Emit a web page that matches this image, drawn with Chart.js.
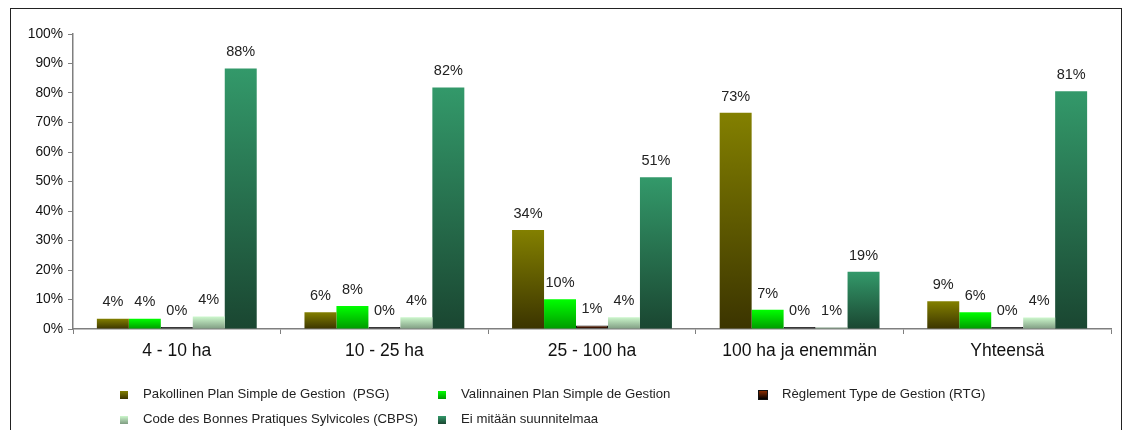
<!DOCTYPE html>
<html>
<head>
<meta charset="utf-8">
<script src="https://cdn.jsdelivr.net/npm/chart.js@4/dist/chart.umd.min.js"></script>
<style>
    html, body { margin: 0; padding: 0; background: #fff; }
    #wrap { position: relative; width: 1124px; height: 430px; overflow: hidden; }
    #frame {
        position: absolute; left: 10px; top: 8px; width: 1112px; height: 440px;
        border: 1.5px solid #222; box-sizing: border-box;
    }
    canvas { position: absolute; left: 0; top: 0; }
    #legend {
        position: absolute; left: 0; top: 0; width: 1124px; height: 430px;
        font-family: "Liberation Sans", Arial, sans-serif; font-size: 13.2px; color: #222;
    }
    .item { position: absolute; white-space: pre; }
    .box { position: absolute; width: 8px; height: 8px; top: 5px; left: -23px; }
</style>
</head>
<body>
<div id="wrap">
    <div id="frame"></div>
    <canvas id="chart" width="1124" height="430"></canvas>
    <div id="legend"></div>
</div>
<script>
const categories = ['4 - 10 ha', '10 - 25 ha', '25 - 100 ha', '100 ha ja enemmän', 'Yhteensä'];
const seriesNames = [
    'Pakollinen Plan Simple de Gestion  (PSG)',
    'Valinnainen Plan Simple de Gestion',
    'Règlement Type de Gestion (RTG)',
    'Code des Bonnes Pratiques Sylvicoles (CBPS)',
    'Ei mitään suunnitelmaa'
];
const psg  = [3.5, 5.7, 33.6, 73.3, 9.4];
const val  = [3.5, 7.8, 10.1, 6.5, 5.7];
const rtg  = [0.3, 0.3, 1.2, 0.4, 0.3];
const cbps = [4.2, 4.0, 4.0, 0.5, 3.9];
const ei   = [88.3, 81.9, 51.4, 19.4, 80.6];
const yTicks = [0, 10, 20, 30, 40, 50, 60, 70, 80, 90, 100];

// top and bottom colours of each series gradient
const gradTop = ['#838000', '#00ff00', '#8b2c00', '#ccf7cc', '#33996a'];
const gradBottom = ['#3b3400', '#009a00', '#000000', '#7f9c82', '#1a4631'];
const borders = ['rgba(0,0,0,0)', 'rgba(0,0,0,0)', '#111', 'rgba(0,0,0,0)', 'rgba(0,0,0,0)'];

const FONT = '"Liberation Sans", Arial, sans-serif';

function barGradient(i) {
    return function(context) {
        const chart = context.chart;
        if (!chart.chartArea || context.parsed === undefined) return gradTop[i];
        const y = chart.scales.y;
        const top = y.getPixelForValue(context.parsed.y);
        const bottom = y.getPixelForValue(0);
        if (!isFinite(top) || bottom - top < 2) return gradBottom[i];
        const g = chart.ctx.createLinearGradient(0, top, 0, bottom);
        g.addColorStop(0, gradTop[i]);
        g.addColorStop(1, gradBottom[i]);
        return g;
    };
}

const seriesData = [psg, val, rtg, cbps, ei];

const valueLabels = {
    id: 'valueLabels',
    afterDatasetsDraw(chart) {
        const ctx = chart.ctx;
        ctx.save();
        ctx.font = '14.5px ' + FONT;
        ctx.fillStyle = '#222';
        ctx.textAlign = 'center';
        ctx.textBaseline = 'bottom';
        chart.data.datasets.forEach((ds, di) => {
            chart.getDatasetMeta(di).data.forEach((bar, i) => {
                ctx.fillText(Math.round(ds.data[i]) + '%', bar.x, bar.y - 9);
            });
        });
        ctx.restore();
    }
};

new Chart(document.getElementById('chart'), {
    type: 'bar',
    data: {
        labels: categories,
        datasets: seriesData.map((d, i) => ({
            label: seriesNames[i],
            data: d,
            backgroundColor: barGradient(i),
            borderColor: borders[i],
            borderWidth: i === 2 ? 1 : 0,
            minBarLength: i === 2 ? 2 : 0,
            categoryPercentage: 0.77,
            barPercentage: 1.0
        }))
    },
    options: {
        responsive: false,
        animation: false,
        layout: { padding: { left: 0, right: 13, top: 34, bottom: 0 } },
        plugins: {
            legend: { display: false },
            tooltip: { enabled: false }
        },
        scales: {
            x: {
                grid: { display: true, drawOnChartArea: false, drawTicks: true, tickLength: 5, color: '#7f7f7f', offset: true },
                border: { color: '#7f7f7f', width: 1.5 },
                ticks: { font: { family: FONT, size: 17.5 }, color: '#111', padding: 7 },
                afterFit(scale) { scale.height = 101; }
            },
            y: {
                min: 0,
                max: 100,
                afterBuildTicks(scale) { scale.ticks = yTicks.map(v => ({ value: v })); },
                grid: { display: true, drawOnChartArea: false, drawTicks: true, tickLength: 5, color: '#7f7f7f' },
                border: { color: '#7f7f7f', width: 1.5 },
                ticks: {
                    font: { family: FONT, size: 13.8 }, color: '#111', padding: 5,
                    callback: v => v + '%'
                },
                afterFit(scale) { scale.width = 73; }
            }
        }
    },
    plugins: [valueLabels]
});

// legend laid out as a 3-column grid like the original
const legendPos = [[143, 386], [461, 386], [782, 386], [143, 411], [461, 411]];
const legendEl = document.getElementById('legend');
seriesNames.forEach((name, i) => {
    const item = document.createElement('div');
    item.className = 'item';
    item.style.left = legendPos[i][0] + 'px';
    item.style.top = legendPos[i][1] + 'px';
    const box = document.createElement('span');
    box.className = 'box';
    box.style.background = `linear-gradient(${gradTop[i]}, ${gradBottom[i]})`;
    if (i === 2) box.style.outline = '1px solid #111';
    item.appendChild(box);
    item.appendChild(document.createTextNode(name));
    legendEl.appendChild(item);
});
</script>
</body>
</html>
